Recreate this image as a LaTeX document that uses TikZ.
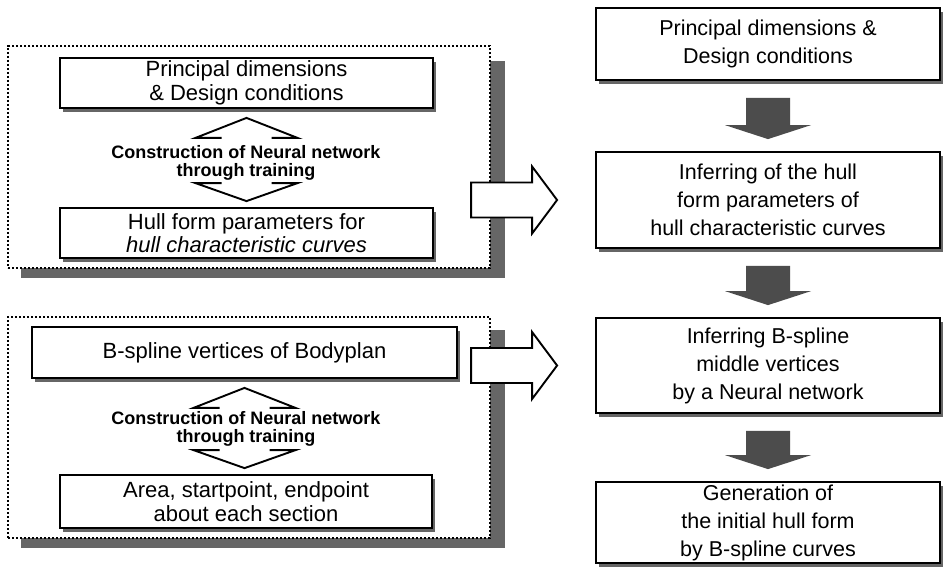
\documentclass[tikz,border=0pt]{standalone}
\usepackage{fontspec}
\setmainfont{Liberation Sans}
\usetikzlibrary{calc}
\newcommand{\drawbox}[7]{%
  \fill[shadowfill] (#2+3,#3+4) rectangle (#4+3,#5+4);
  \node[#6, minimum width=#4-#2, minimum height=#5-#3] (#1) at ({(#2+#4)/2},{(#3+#5)/2}) {#7};
}
\newcommand{\dblarrow}[2]{%
  \coordinate (ta) at ($(#1.south)+(0,9)$);
  \coordinate (ba) at ($(#1.south |- #2.north)+(0,-6)$);
  \draw[hollowline] ($(ta)+(-25,20)$) -- ($(ta)+(-51,20)$) -- (ta) -- ($(ta)+(51,20)$) -- ($(ta)+(25,20)$);
  \draw[hollowline] ($(ba)+(-25,-18)$) -- ($(ba)+(-51,-18)$) -- (ba) -- ($(ba)+(51,-18)$) -- ($(ba)+(25,-18)$);
}
\newcommand{\blockdown}[2]{%
  \coordinate (st) at ($(#1.south)+(0,17)$);
  \coordinate (tp) at ($(#1.south |- #2.north)+(0,-12)$);
  \fill[arrowfill] ($(st)+(-22,0)$) -- ($(st)+(22,0)$) -- ($(tp)+(22,-14)$) -- ($(tp)+(43,-14)$) -- (tp) -- ($(tp)+(-43,-14)$) -- ($(tp)+(-22,-14)$) -- cycle;
}
\newcommand{\rightblock}[2]{%
  \coordinate (tp) at ($(#2.west)+(-38,0)$);
  \draw[hollowline, fill=white, line join=miter] ($(tp)+(-86,-17.5)$) -- ($(tp)+(-25,-17.5)$) -- ($(tp)+(-25,-33.5)$) -- (tp) -- ($(tp)+(-25,33.5)$) -- ($(tp)+(-25,17.5)$) -- ($(tp)+(-86,17.5)$) -- cycle;
}
\begin{document}
\begin{tikzpicture}[x=1pt,y=-1pt,
  shadowfill/.style={fill=black!60},
  arrowfill/.style={fill=black!70},
  hollowline/.style={draw=black, line width=1.9pt},
  box/.style={draw=black, line width=1.8pt, fill=white, inner sep=0pt, align=center, font=\fontsize{22}{23.5}\selectfont},
  rbox/.style={box, font=\fontsize{21.5}{28}\selectfont},
  group/.style={draw=black, line width=1.7pt, dash pattern=on 2.2pt off 1.8pt, fill=white, inner sep=0pt},
  blabel/.style={align=center, inner sep=0pt, font=\bfseries\fontsize{18}{18}\selectfont}
]
\useasboundingbox (0,0) rectangle (944,568);
\fill[white] (0,0) rectangle (944,568);

% group boxes with heavy shadows
\fill[shadowfill] (21,61) rectangle (505,278);
\node[group, minimum width=482, minimum height=222] (g1) at (249,157) {};
\fill[shadowfill] (21,330) rectangle (505,548);
\node[group, minimum width=482, minimum height=221] (g2) at (249,427.5) {};

% left inner boxes
\drawbox{b1}{60}{58}{433}{108}{box}{Principal dimensions\\\& Design conditions}
\drawbox{b2}{60}{208}{433}{258}{box}{Hull form parameters for\\\textit{hull characteristic curves}}
\drawbox{b3}{32}{327}{457}{378}{box}{B-spline vertices of Bodyplan}
\drawbox{b4}{60}{475}{432}{528}{box}{Area, startpoint, endpoint\\about each section}

\dblarrow{b1}{b2}
\node[blabel] (c1) at (246,163) {Construction of Neural network\\through training};
\dblarrow{b3}{b4}
\node[blabel] (c2) at (246,429) {Construction of Neural network\\through training};

% right column
\drawbox{r1}{596}{8}{940}{80}{rbox}{Principal dimensions \&\\Design conditions}
\drawbox{r2}{596}{152}{940}{248}{rbox}{Inferring of the hull\\form parameters of\\hull characteristic curves}
\drawbox{r3}{596}{318}{940}{413}{rbox}{Inferring B-spline\\middle vertices\\by a Neural network}
\drawbox{r4}{596}{482}{940}{563}{rbox}{Generation of\\the initial hull form\\by B-spline curves}

\blockdown{r1}{r2}
\blockdown{r2}{r3}
\blockdown{r3}{r4}

\rightblock{g1}{r2}
\rightblock{g2}{r3}
\end{tikzpicture}
\end{document}
